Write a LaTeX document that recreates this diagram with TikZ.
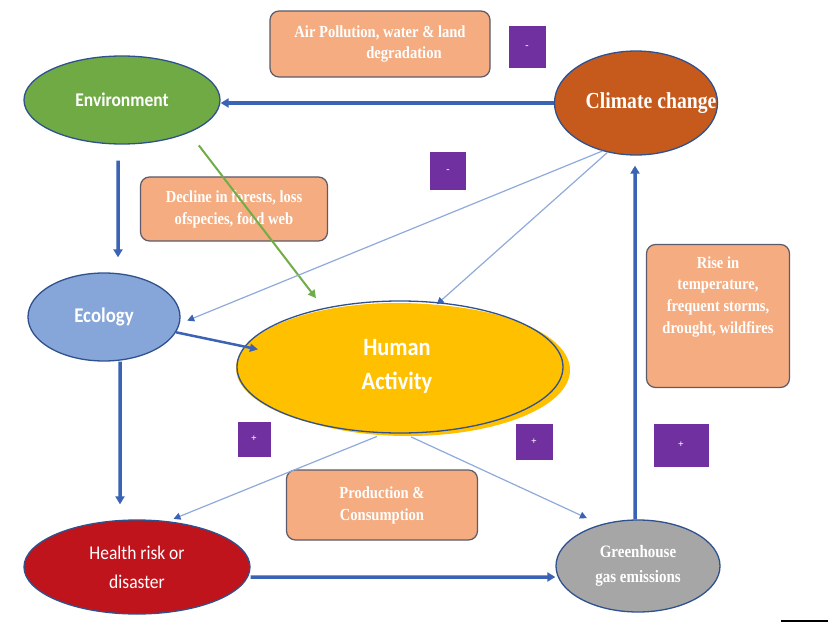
\documentclass[tikz,border=0pt]{standalone}
\usepackage{fontspec}
\setmainfont{Liberation Serif}
\newfontfamily\condserif[FakeStretch=0.86]{Liberation Serif}
\newfontfamily\carl[FakeStretch=0.9]{Carlito}
\usetikzlibrary{shapes.geometric,arrows.meta,calc}
\definecolor{envg}{HTML}{6FAA45}
\definecolor{climo}{HTML}{C65A1C}
\definecolor{ecob}{HTML}{86A5D9}
\definecolor{humy}{HTML}{FFC000}
\definecolor{healr}{HTML}{C0141C}
\definecolor{ghg}{HTML}{A6A6A6}
\definecolor{boxf}{HTML}{F4AC80}
\definecolor{boxedge}{HTML}{5B5B6B}
\definecolor{purp}{HTML}{7030A0}
\definecolor{edgeb}{HTML}{2F528F}
\definecolor{arrb}{HTML}{3B63B5}
\definecolor{thinb}{HTML}{8FAADC}
\definecolor{arrg}{HTML}{70AD47}
\begin{document}
\begin{tikzpicture}[x=1bp,y=-1bp,
  ell/.style={ellipse, draw=edgeb, line width=1.3bp, inner sep=0pt, text=white, align=center},
  box/.style={rectangle, rounded corners=9bp, draw=boxedge, line width=1.2bp, fill=boxf, text=white, align=center, inner sep=0pt, font=\condserif\fontsize{17}{22}\selectfont\bfseries},
  sign/.style={rectangle, fill=purp, text=white, inner sep=0pt, font=\fontsize{10}{10}\selectfont\bfseries},
  bigarrow/.style={draw=arrb, line width=3.5bp, -{Triangle[length=8bp,width=9bp]}},
  thinarrow/.style={draw=thinb, line width=1.2bp, -{Triangle[length=7bp,width=7bp,color=arrb]}},
]
\fill[white] (0,0) rectangle (828,623);
\useasboundingbox (0,0) rectangle (828,623);

% ellipses
\node[ell, fill=envg, minimum width=196bp, minimum height=88bp, font=\carl\fontsize{19.5}{20}\selectfont\bfseries] (env) at (122,100) {Environment};
\node[ell, fill=climo, minimum width=163bp, minimum height=104bp,
  label={[text=white, inner sep=0pt, xshift=15bp, font=\condserif\fontsize{23}{25}\selectfont\bfseries]center:Climate change}] (clim) at (636,103) {};
\node[ell, fill=ecob, minimum width=152bp, minimum height=88bp, font=\carl\fontsize{21}{22}\selectfont\bfseries] (eco) at (104,317) {Ecology};
\fill[humy] (408,370) ellipse [x radius=162, y radius=66];
\node[ell, draw=none, fill=humy, minimum width=322bp, minimum height=130bp, font=\carl\fontsize{25}{34}\selectfont\bfseries] (human) at (397,368) {Human\\Activity\\[-26bp]\mbox{}};
\draw[edgeb, line width=1.3bp] (400,367) ellipse [x radius=163, y radius=66];
\node[ell, fill=healr, minimum width=226bp, minimum height=94bp, font=\carl\fontsize{19.5}{29}\selectfont] (health) at (137,567) {Health risk or\\disaster};
\node[ell, fill=ghg, minimum width=164bp, minimum height=92bp, font=\condserif\fontsize{17.5}{25}\selectfont\bfseries] (gh) at (638,566) {Greenhouse\\gas emissions};

% boxes
\node[box, minimum width=220bp, minimum height=66bp] (air) at (380,44) {Air Pollution, water \& land\\\hspace*{48bp}degradation};
\node[box, minimum width=187bp, minimum height=64bp] (decl) at (234,209) {Decline in forests, loss\\ofspecies, food web};
\node[box, minimum width=143bp, minimum height=143bp] (rise) at (718,316) {Rise in\\temperature,\\frequent storms,\\drought, wildfires\\[20bp]~};
\node[box, minimum width=191bp, minimum height=70bp] (prod) at (382,505) {Production \&\\Consumption};

% signs
\node[sign, minimum width=37bp, minimum height=42bp] (s1) at (527,47) {-};
\node[sign, minimum width=36bp, minimum height=38bp] (s2) at (448,171) {-};
\node[sign, minimum width=33bp, minimum height=35bp] (s3) at (254,439) {+};
\node[sign, minimum width=37bp, minimum height=36bp] (s4) at (534,442) {+};
\node[sign, minimum width=55bp, minimum height=43bp] (s5) at (681,445) {+};

% main loop arrows
\draw[bigarrow, line width=4.5bp] (clim.west) -- (clim.west -| env.east);
\draw[bigarrow, shorten <=16bp, shorten >=15bp] ([xshift=-4bp]env.south) -- ([xshift=14bp]eco.north);
\draw[bigarrow, shorten >=15bp] ([xshift=16bp]eco.south) -- ([xshift=-17bp]health.north);
\draw[bigarrow] ([yshift=-10bp]health.east) -- ([yshift=-11bp]gh.west);
\draw[bigarrow, shorten >=10bp] ([xshift=-3bp]gh.north) -- ([xshift=-1bp]clim.south);

% secondary arrows
\draw[draw=arrb, line width=2.5bp, -{Triangle[length=8bp,width=8bp]}, shorten >=-14bp] (eco.-12) -- (human.172);
\draw[draw=arrg, line width=2bp, -{Triangle[length=8bp,width=8bp]}, shorten <=16bp, shorten >=14bp] (env.-26) -- (human.141);
\draw[thinarrow, shorten >=8bp] (clim.235) -- (eco.-5);
\draw[thinarrow] (clim.240) -- (human.58);
\draw[thinarrow, shorten <=8bp, shorten >=6bp] (human.-101) -- (health.56);
\draw[thinarrow, shorten <=8bp, shorten >=15bp] (human.-84) -- (gh.132);

% small mark at bottom right
\draw[black, line width=1.5bp] (781,621) -- (828,621);
\end{tikzpicture}
\end{document}
